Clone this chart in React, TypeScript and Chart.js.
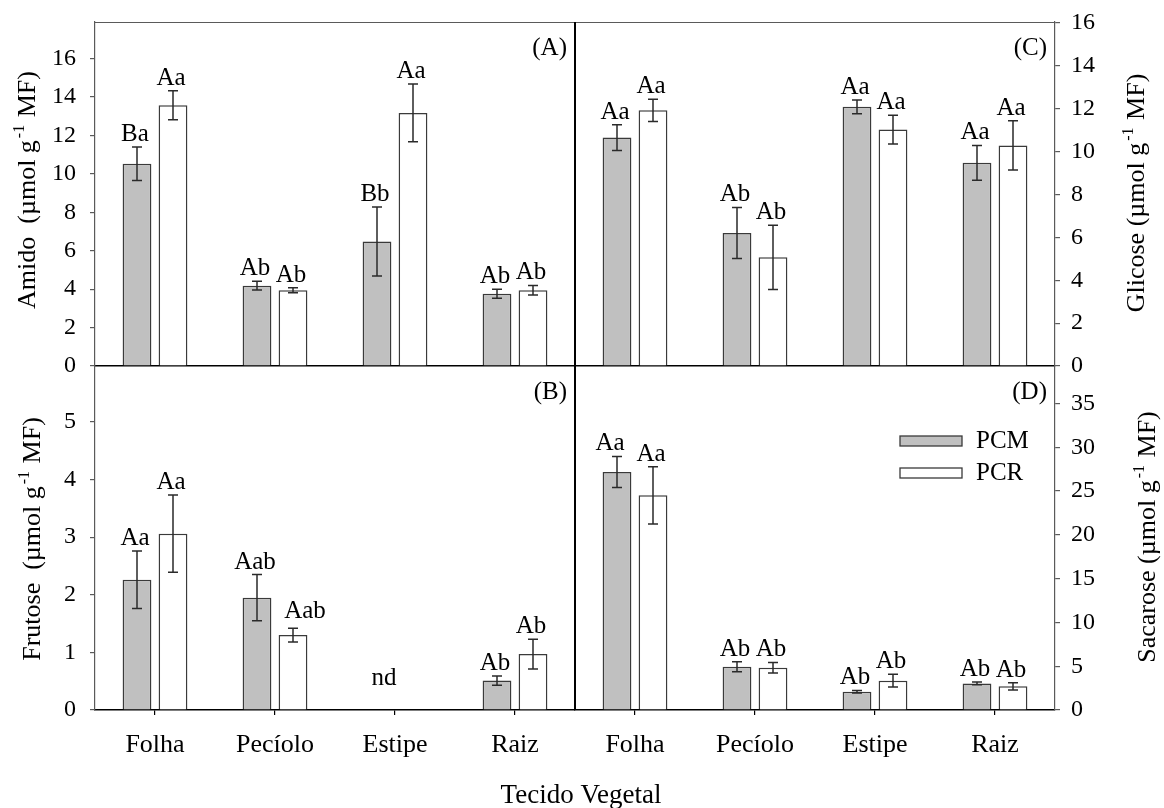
import React, { useEffect, useRef } from 'react';
import { Chart, registerables } from 'chart.js';

Chart.register(...registerables);

const FONT = '"Liberation Serif", "Times New Roman", Times, serif';
const W = 1164;
const H = 808;

// ---------- data ----------
const categories = ['Folha', 'Pecíolo', 'Estipe', 'Raiz'];
const seriesLabels = ['PCM', 'PCR'];
const xAxisTitle = 'Tecido Vegetal';

// (A) Amido
const amidoPCM = [10.52, 4.18, 6.48, 3.76];
const amidoPCMErr = [0.87, 0.23, 1.8, 0.23];
const amidoPCR = [13.57, 3.94, 13.17, 3.94];
const amidoPCRErr = [0.75, 0.13, 1.5, 0.25];
const amidoLettersPCM = ['Ba', 'Ab', 'Bb', 'Ab'];
const amidoLettersPCR = ['Aa', 'Ab', 'Aa', 'Ab'];
const amidoTicks = [0, 2, 4, 6, 8, 10, 12, 14, 16];
const amidoMax = 17.9;

// (C) Glicose
const glicosePCM = [10.66, 6.21, 12.09, 9.48];
const glicosePCMErr = [0.6, 1.19, 0.32, 0.81];
const glicosePCR = [11.93, 5.07, 11.03, 10.29];
const glicosePCRErr = [0.52, 1.5, 0.67, 1.15];
const glicoseLettersPCM = ['Aa', 'Ab', 'Aa', 'Aa'];
const glicoseLettersPCR = ['Aa', 'Ab', 'Aa', 'Aa'];
const glicoseTicks = [0, 2, 4, 6, 8, 10, 12, 14, 16];
const glicoseMax = 16.05;

// (B) Frutose
const frutosePCM = [2.26, 1.95, null, 0.51];
const frutosePCMErr = [0.5, 0.4, null, 0.08];
const frutosePCR = [3.06, 1.3, null, 0.97];
const frutosePCRErr = [0.67, 0.12, null, 0.26];
const frutoseLettersPCM = ['Aa', 'Aab', '', 'Ab'];
const frutoseLettersPCR = ['Aa', 'Aab', '', 'Ab'];
const frutoseNotes = ['', '', 'nd', ''];
const frutoseTicks = [0, 1, 2, 3, 4, 5];
const frutoseMax = 5.97;

// (D) Sacarose
const sacarosePCM = [27.18, 4.95, 2.09, 3.04];
const sacarosePCMErr = [1.77, 0.57, 0.15, 0.15];
const sacarosePCR = [24.52, 4.83, 3.35, 2.7];
const sacarosePCRErr = [3.27, 0.6, 0.73, 0.42];
const sacaroseLettersPCM = ['Aa', 'Ab', 'Ab', 'Ab'];
const sacaroseLettersPCR = ['Aa', 'Ab', 'Ab', 'Ab'];
const sacaroseTicks = [0, 5, 10, 15, 20, 25, 30, 35];
const sacaroseMax = 39.28;

// ---------- layout ----------
const FRAME = { left: 95, mid: 575, right: 1055, top: 22, midY: 366, bottom: 710 };
const GRAY = '#c0c0c0';
const EDGE = '#3a3a3a';
const AXIS_GRAY = '#5a5a5a';

type Panel = {
  id: string;
  tag: string;
  title: [string, string, string];
  titlePos: { x: number; y: number };
  pcm: (number | null)[];
  pcmErr: (number | null)[];
  pcr: (number | null)[];
  pcrErr: (number | null)[];
  lettersPCM: string[];
  lettersPCR: string[];
  notes?: string[];
  ticks: number[];
  max: number;
  side: 'left' | 'right';
  row: 0 | 1;
  legend?: boolean;
  xTitle?: boolean;
  nudge?: Record<string, [number, number]>;
};

const panels: Panel[] = [
  {
    id: 'A', tag: '(A)', title: ['Amido  (µmol g', '-1', ' MF)'], titlePos: { x: 35, y: 190 },
    pcm: amidoPCM, pcmErr: amidoPCMErr, pcr: amidoPCR, pcrErr: amidoPCRErr,
    lettersPCM: amidoLettersPCM, lettersPCR: amidoLettersPCR,
    ticks: amidoTicks, max: amidoMax, side: 'left', row: 0,
  },
  {
    id: 'C', tag: '(C)', title: ['Glicose (µmol g', '-1', ' MF)'], titlePos: { x: 1144, y: 193 },
    pcm: glicosePCM, pcmErr: glicosePCMErr, pcr: glicosePCR, pcrErr: glicosePCRErr,
    lettersPCM: glicoseLettersPCM, lettersPCR: glicoseLettersPCR,
    ticks: glicoseTicks, max: glicoseMax, side: 'right', row: 0,
  },
  {
    id: 'B', tag: '(B)', title: ['Frutose  (µmol g', '-1', ' MF)'], titlePos: { x: 40, y: 539 },
    pcm: frutosePCM, pcmErr: frutosePCMErr, pcr: frutosePCR, pcrErr: frutosePCRErr,
    lettersPCM: frutoseLettersPCM, lettersPCR: frutoseLettersPCR, notes: frutoseNotes,
    ticks: frutoseTicks, max: frutoseMax, side: 'left', row: 1, xTitle: true,
    nudge: { '1-1': [14, -4] },
  },
  {
    id: 'D', tag: '(D)', title: ['Sacarose (µmol g', '-1', ' MF)'], titlePos: { x: 1155, y: 537 },
    pcm: sacarosePCM, pcmErr: sacarosePCMErr, pcr: sacarosePCR, pcrErr: sacarosePCRErr,
    lettersPCM: sacaroseLettersPCM, lettersPCR: sacaroseLettersPCR,
    ticks: sacaroseTicks, max: sacaroseMax, side: 'right', row: 1, legend: true,
    nudge: { '0-0': [-5, 0] },
  },
];

function makePlugin(p: Panel) {
  return {
    id: 'panelDecor' + p.id,
    afterDatasetsDraw(chart: any) {
      const ctx: CanvasRenderingContext2D = chart.ctx;
      const ca = chart.chartArea;
      const y = chart.scales.y;
      const x = chart.scales.x;
      ctx.save();

      // error bars + letters
      const sets = [
        { v: p.pcm, e: p.pcmErr, l: p.lettersPCM },
        { v: p.pcr, e: p.pcrErr, l: p.lettersPCR },
      ];
      sets.forEach((s, di) => {
        const meta = chart.getDatasetMeta(di);
        meta.data.forEach((bar: any, i: number) => {
          const v = s.v[i];
          const e = s.e[i];
          if (v == null || e == null) return;
          const yTop = y.getPixelForValue(v + e);
          const yBot = y.getPixelForValue(v - e);
          const bx = bar.x;
          ctx.strokeStyle = '#2a2a2a';
          ctx.lineWidth = 1.5;
          ctx.beginPath();
          ctx.moveTo(bx, yTop);
          ctx.lineTo(bx, yBot);
          ctx.moveTo(bx - 5, yTop);
          ctx.lineTo(bx + 5, yTop);
          ctx.moveTo(bx - 5, yBot);
          ctx.lineTo(bx + 5, yBot);
          ctx.stroke();
          if (s.l[i]) {
            const nd = (p.nudge && p.nudge[`${di}-${i}`]) || [0, 0];
            ctx.fillStyle = '#000';
            ctx.font = `25px ${FONT}`;
            ctx.textAlign = 'center';
            ctx.textBaseline = 'alphabetic';
            ctx.fillText(s.l[i], bx - 2 + nd[0], yTop - 6 + nd[1]);
          }
        });
      });

      // notes (nd)
      if (p.notes) {
        p.notes.forEach((n, i) => {
          if (!n) return;
          ctx.fillStyle = '#000';
          ctx.font = `25px ${FONT}`;
          ctx.textAlign = 'center';
          ctx.textBaseline = 'alphabetic';
          ctx.fillText(n, x.getPixelForValue(i) - 11, y.getPixelForValue(0) - 25);
        });
      }

      // panel tag
      ctx.fillStyle = '#000';
      ctx.font = `25px ${FONT}`;
      ctx.textAlign = 'right';
      ctx.textBaseline = 'middle';
      ctx.fillText(p.tag, ca.right - 8, ca.top + 26);

      // frame lines
      if (p.row === 0) {
        ctx.strokeStyle = AXIS_GRAY;
        ctx.lineWidth = 1.2;
        ctx.beginPath();
        ctx.moveTo(ca.left, ca.top + 0.5);
        ctx.lineTo(ca.right, ca.top + 0.5);
        ctx.stroke();
      }
      if (p.side === 'right') {
        ctx.strokeStyle = '#000';
        ctx.lineWidth = 2;
        ctx.beginPath();
        ctx.moveTo(ca.left, ca.top);
        ctx.lineTo(ca.left, ca.bottom);
        ctx.stroke();
      }

      // y title with superscript
      ctx.save();
      ctx.translate(p.titlePos.x, p.titlePos.y);
      ctx.rotate(-Math.PI / 2);
      ctx.fillStyle = '#000';
      ctx.textAlign = 'left';
      ctx.textBaseline = 'alphabetic';
      const big = `26px ${FONT}`;
      const small = `16px ${FONT}`;
      ctx.font = big;
      const w1 = ctx.measureText(p.title[0]).width;
      const w3 = ctx.measureText(p.title[2]).width;
      ctx.font = small;
      const w2 = ctx.measureText(p.title[1]).width + 3;
      let tx = -(w1 + w2 + w3) / 2;
      ctx.font = big;
      ctx.fillText(p.title[0], tx, 0);
      tx += w1;
      ctx.font = small;
      ctx.fillText(p.title[1], tx + 2, -11);
      tx += w2;
      ctx.font = big;
      ctx.fillText(p.title[2], tx, 0);
      ctx.restore();

      // x axis title
      if (p.xTitle) {
        ctx.fillStyle = '#000';
        ctx.font = `27px ${FONT}`;
        ctx.textAlign = 'center';
        ctx.textBaseline = 'alphabetic';
        ctx.fillText(xAxisTitle, FRAME.mid + 6, 803);
      }

      // legend
      if (p.legend) {
        const fills = [GRAY, '#ffffff'];
        seriesLabels.forEach((lab, i) => {
          const bx = ca.left + 325;
          const by = ca.top + 70 + i * 32;
          ctx.fillStyle = fills[i];
          ctx.fillRect(bx, by, 62, 10);
          ctx.strokeStyle = EDGE;
          ctx.lineWidth = 1.3;
          ctx.strokeRect(bx, by, 62, 10);
          ctx.fillStyle = '#000';
          ctx.font = `25px ${FONT}`;
          ctx.textAlign = 'left';
          ctx.textBaseline = 'middle';
          ctx.fillText(lab, bx + 76, by + 5);
        });
      }
      ctx.restore();
    },
  };
}

function buildConfig(p: Panel): any {
  const isLeft = p.side === 'left';
  const isTop = p.row === 0;
  const padding = {
    left: isLeft ? 0 : FRAME.mid,
    right: isLeft ? W - FRAME.mid : 0,
    top: isTop ? FRAME.top : FRAME.midY,
    bottom: 0,
  };
  const xHeight = isTop ? H - FRAME.midY : H - FRAME.bottom;
  const yWidth = isLeft ? FRAME.left : W - FRAME.right;
  return {
    type: 'bar',
    data: {
      labels: categories,
      datasets: [
        {
          label: seriesLabels[0], data: p.pcm, backgroundColor: GRAY, borderColor: EDGE,
          borderWidth: 1.5, categoryPercentage: 0.6, barPercentage: 0.8,
        },
        {
          label: seriesLabels[1], data: p.pcr, backgroundColor: '#ffffff', borderColor: EDGE,
          borderWidth: 1.5, categoryPercentage: 0.6, barPercentage: 0.8,
        },
      ],
    },
    options: {
      animation: false,
      responsive: false,
      maintainAspectRatio: false,
      devicePixelRatio: 1,
      events: [],
      layout: { padding },
      plugins: { legend: { display: false }, tooltip: { enabled: false }, title: { display: false } },
      scales: {
        x: {
          type: 'category',
          position: 'bottom',
          offset: true,
          afterFit: (s: any) => {
            s.height = xHeight;
            s.paddingLeft = 0;
            s.paddingRight = 0;
          },
          grid: {
            display: !isTop, drawOnChartArea: false, drawTicks: !isTop, tickLength: 5,
            offset: false, color: '#000', lineWidth: 1.2,
          },
          border: { display: true, color: '#000', width: 1.5 },
          ticks: { display: !isTop, color: '#000', font: { family: FONT, size: 26 }, padding: 15, maxRotation: 0 },
        },
        y: {
          type: 'linear',
          position: p.side,
          min: 0,
          max: p.max,
          afterBuildTicks: (s: any) => { s.ticks = p.ticks.map((v) => ({ value: v })); },
          afterFit: (s: any) => {
            s.width = yWidth;
            s.paddingTop = 0;
            s.paddingBottom = 0;
          },
          grid: { display: true, drawOnChartArea: false, drawTicks: true, tickLength: 5, color: AXIS_GRAY, lineWidth: 1.2 },
          border: { display: true, color: AXIS_GRAY, width: 1.2 },
          ticks: { color: '#000', font: { family: FONT, size: 24 }, padding: isLeft ? 14 : 11 },
        },
      },
    },
    plugins: [makePlugin(p)],
  };
}

function PanelChart({ panel }: { panel: Panel }) {
  const ref = useRef<HTMLCanvasElement>(null);
  useEffect(() => {
    const chart = new Chart(ref.current as HTMLCanvasElement, buildConfig(panel));
    return () => chart.destroy();
  }, [panel]);
  return (
    <canvas
      ref={ref}
      width={W}
      height={H}
      style={{ position: 'absolute', left: 0, top: 0, width: W, height: H }}
    />
  );
}

export default function App() {
  return (
    <div style={{ position: 'absolute', left: 0, top: 0, width: W, height: H, background: '#fff', overflow: 'hidden' }}>
      {panels.map((p) => (
        <PanelChart key={p.id} panel={p} />
      ))}
    </div>
  );
}
